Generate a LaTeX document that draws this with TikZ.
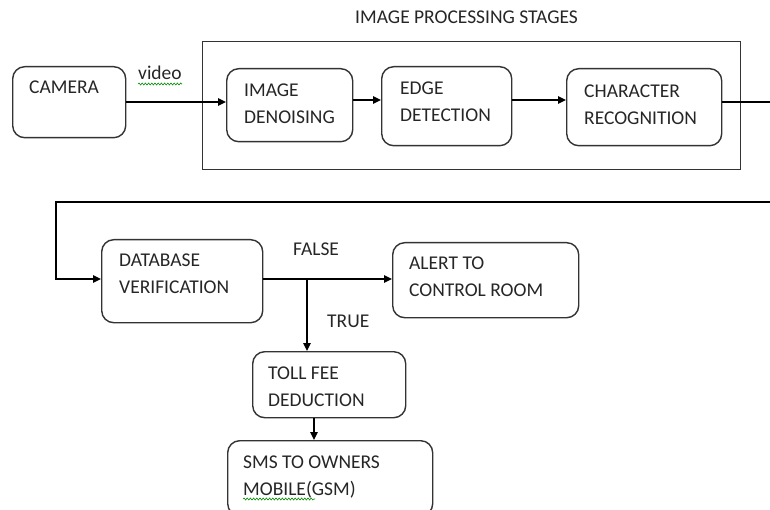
\documentclass[tikz,border=0pt]{standalone}
\usepackage{fontspec}
\setmainfont{Carlito}
\usetikzlibrary{arrows.meta,decorations.pathmorphing}
\definecolor{ink}{HTML}{262626}
\definecolor{edgec}{HTML}{333333}
\begin{document}
\begin{tikzpicture}[x=1pt,y=-1pt,
  box/.style={draw=edgec, line width=1.4pt, rounded corners=12pt, inner sep=0pt, anchor=north west},
  frame/.style={draw=edgec, line width=1.4pt, inner sep=0pt, anchor=north west},
  lbl/.style={inner sep=0pt, anchor=base west, align=left, text=ink,
    font=\fontsize{19.5}{27}\selectfont},
  conn/.style={draw=black, line width=1.3pt},
  arr/.style={conn, -{Triangle[length=8pt,width=7.5pt]}},
  squig/.style={draw=green!55!black, line width=0.6pt, decorate,
    decoration={snake, amplitude=1pt, segment length=3.2pt}}]
\useasboundingbox (0,0) rectangle (770,510);
\clip (0,0) rectangle (770,510);

% boxes
\node[box, minimum width=113pt, minimum height=71pt] (cam) at (12,66) {};
\node[frame, minimum width=538pt, minimum height=128pt] (stages) at (202,41) {};
\node[box, minimum width=126pt, minimum height=73pt] (den) at (226,68) {};
\node[box, minimum width=130pt, minimum height=79pt] (edge) at (381,66) {};
\node[box, minimum width=155pt, minimum height=77pt] (chr) at (566,68) {};
\node[box, minimum width=161pt, minimum height=83pt] (db) at (101,239) {};
\node[box, minimum width=186pt, minimum height=75pt] (alert) at (392,242) {};
\node[box, minimum width=153pt, minimum height=66pt] (toll) at (252,351) {};
\node[box, minimum width=205pt, minimum height=75pt] (sms) at (227,440) {};

% labels (two-line labels are placed by the baseline of their last line)
\node[lbl] (title) at (355,24) {IMAGE PROCESSING STAGES};
\node[lbl] (camt) at (29,94) {CAMERA};
\node[lbl] (dent) at (244,124) {IMAGE\\DENOISING};
\node[lbl] (edget) at (400,122) {EDGE\\DETECTION};
\node[lbl] (chrt) at (584,125) {CHARACTER\\RECOGNITION};
\node[lbl] (dbt) at (119,294) {DATABASE\\VERIFICATION};
\node[lbl] (alertt) at (409,297) {ALERT TO\\CONTROL ROOM};
\node[lbl] (tollt) at (268,406) {TOLL FEE\\DEDUCTION};
\node[lbl] (smst) at (243,495) {SMS TO OWNERS\\MOBILE(GSM)};
\node[lbl] (vid) at (138,80) {video};
\node[lbl] (fls) at (293,256) {FALSE};
\node[lbl] (tru) at (327,327) {TRUE};

% spell-check squiggles
\draw[squig] (138,84) -- (182,84);
\draw[squig] (243,499) -- (315,499);

% helper coordinates
\coordinate (r1) at (0,100);
\coordinate (c1) at (0,102);
\coordinate (far) at (790,0);
\coordinate (back) at (0,202);
\coordinate (lx) at (56,0);
\coordinate (split) at (307,279);
\coordinate (tollin) at (307,351);
\coordinate (smsx) at (314,0);

% connectors
\draw[arr] (cam.east |- c1) -- (den.west |- c1);
\draw[arr] (den.east |- r1) -- (edge.west |- r1);
\draw[arr] (edge.east |- r1) -- (chr.west |- r1);
\draw[arr] (chr.east |- c1) -- (far |- c1) -- (far |- back) -- (lx |- back)
  -- (lx |- split) -- (db.west |- split);
\draw[arr] (db.east |- split) -- (alert.west |- split);
\draw[arr] (split) -- (tollin);
\draw[arr] (toll.south -| smsx) -- (sms.north -| smsx);
\end{tikzpicture}
\end{document}
